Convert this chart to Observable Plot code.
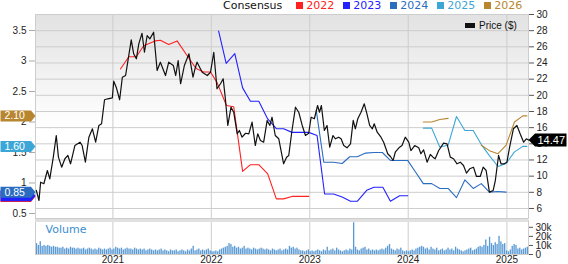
<!DOCTYPE html>
<html><head><meta charset="utf-8">
<script src="https://cdn.jsdelivr.net/npm/d3@7"></script>
<script src="https://cdn.jsdelivr.net/npm/@observablehq/plot@0.6"></script>
<style>
body{margin:0;background:#fff;}
#wrap{position:relative;width:568px;height:264px;overflow:hidden;font-family:"Liberation Sans",Arial,sans-serif;}
#main{position:absolute;left:0;top:0;}
#vol{position:absolute;left:0;top:216px;}
#legend{position:absolute;left:223px;top:0;display:flex;align-items:flex-start;font-family:"DejaVu Sans",Verdana,sans-serif;font-size:11px;line-height:11px;white-space:nowrap;}
#legend .item{display:flex;align-items:flex-start;margin-left:9px;}
#legend .sq{width:7px;height:7px;margin-top:2px;margin-right:3px;}
#priceLegend{position:absolute;left:465px;top:21px;font-size:10px;line-height:10px;white-space:nowrap;color:#111;}
#priceLegend .box{display:inline-block;width:10px;height:5px;background:#111;margin-right:4px;vertical-align:1px;}
</style></head><body>
<div id="wrap">
  <div id="main"></div>
  <div id="vol"></div>
  <div id="legend"><span style="color:#111;margin-right:5px">Consensus</span></div>
  <div id="priceLegend"><span class="box"></span>Price ($)</div>
</div>
<script>
// ---------------- data ----------------
const price = [
["2020-03-23",8.23],["2020-04-02",6.99],["2020-04-08",9.25],["2020-04-20",9.06],["2020-05-03",10.70],["2020-05-12",9.67],["2020-05-25",12.35],["2020-06-05",15.03],["2020-06-13",12.35],["2020-06-25",11.11],
["2020-07-07",12.15],["2020-07-18",12.56],["2020-07-28",11.53],["2020-08-13",13.79],["2020-09-01",14.20],["2020-09-09",13.79],["2020-09-21",11.73],["2020-10-04",14.82],["2020-10-17",15.86],["2020-10-29",14.20],
["2020-11-10",16.27],["2020-11-20",16.48],["2020-12-01",19.45],["2020-12-13",19.57],["2020-12-30",19.69],["2021-01-04",21.75],["2021-01-14",20.93],["2021-01-26",19.45],["2021-02-05",22.24],["2021-02-17",22.45],
["2021-02-25",24.10],["2021-03-10",26.87],["2021-03-19",25.14],["2021-03-29",24.52],["2021-04-07",26.37],["2021-04-19",27.68],["2021-04-28",25.33],["2021-05-08",27.40],["2021-05-18",26.99],["2021-06-01",27.81],
["2021-06-14",23.07],["2021-06-26",24.10],["2021-07-15",22.45],["2021-07-27",24.10],["2021-08-13",23.69],["2021-08-22",22.45],["2021-08-31",24.31],["2021-09-09",21.43],["2021-09-23",23.69],["2021-10-10",25.14],
["2021-10-25",22.24],["2021-11-03",23.48],["2021-11-09",24.10],["2021-11-28",22.86],["2021-12-17",22.45],["2021-12-29",22.86],["2022-01-10",25.33],["2022-01-22",20.81],["2022-02-04",21.43],["2022-02-14",22.04],
["2022-02-22",19.57],["2022-03-03",16.27],["2022-03-15",18.53],["2022-03-25",17.91],["2022-04-07",15.24],["2022-04-15",15.65],["2022-04-25",14.82],["2022-05-08",15.31],["2022-05-20",15.24],["2022-06-01",16.68],
["2022-06-13",13.79],["2022-06-22",15.24],["2022-07-02",14.41],["2022-07-14",14.20],["2022-07-27",16.89],["2022-08-06",16.27],["2022-08-14",17.29],["2022-08-26",15.03],["2022-09-08",14.62],["2022-09-26",11.53],
["2022-10-07",12.35],["2022-10-15",12.56],["2022-10-27",15.65],["2022-11-09",18.53],["2022-11-21",17.91],["2022-12-04",16.27],["2022-12-16",15.03],["2022-12-28",15.31],["2023-01-06",17.29],["2023-01-18",17.10],
["2023-01-30",18.74],["2023-02-06",17.91],["2023-02-13",18.74],["2023-02-24",15.65],["2023-03-06",16.27],["2023-03-16",13.58],["2023-03-28",15.03],["2023-04-06",14.62],["2023-04-18",14.82],["2023-04-27",14.62],
["2023-05-07",13.79],["2023-05-19",13.51],["2023-06-01",14.00],["2023-06-11",16.89],["2023-06-19",15.86],["2023-06-28",17.10],["2023-07-10",17.91],["2023-07-22",18.95],["2023-08-01",17.71],["2023-08-11",16.27],
["2023-08-21",15.86],["2023-08-28",16.48],["2023-09-08",15.44],["2023-09-22",14.82],["2023-10-02",14.20],["2023-10-17",12.77],["2023-10-27",12.43],["2023-11-06",11.94],["2023-11-14",12.96],["2023-11-30",13.58],
["2023-12-09",13.79],["2023-12-21",14.82],["2024-01-03",14.20],["2024-01-11",13.17],["2024-01-25",13.79],["2024-02-09",13.51],["2024-02-17",12.77],["2024-02-27",13.26],["2024-03-11",11.73],["2024-03-23",12.68],
["2024-04-02",12.35],["2024-04-10",12.15],["2024-04-23",13.17],["2024-05-01",13.58],["2024-05-11",14.08],["2024-05-24",14.00],["2024-06-05",12.35],["2024-06-17",12.15],["2024-06-30",11.53],["2024-07-12",11.73],
["2024-07-24",11.32],["2024-08-04",10.37],["2024-08-16",10.91],["2024-08-30",11.11],["2024-09-10",9.96],["2024-09-24",9.96],["2024-10-05",11.11],["2024-10-16",10.70],["2024-10-28",8.02],["2024-11-11",8.23],
["2024-11-19",9.46],["2024-12-01",12.56],["2024-12-10",11.53],["2024-12-22",11.53],["2025-01-01",11.73],["2025-01-11",13.58],["2025-01-25",15.86],["2025-02-07",16.27],["2025-02-19",15.24],["2025-03-04",14.20],
["2025-03-14",14.62],["2025-03-22",14.47]
];

const eps2022 = [["2021-01-29",2.87],["2021-03-01",3.07],["2021-03-29",3.07],["2021-04-25",3.25],["2021-06-07",3.33],["2021-06-26",3.34],["2021-07-27",3.27],["2021-08-27",3.33],["2021-10-03",3.09],["2021-10-28",2.93],["2021-11-09",2.87],["2021-12-04",2.82],["2021-12-29",2.82],["2022-01-22",2.65],["2022-02-26",2.27],["2022-03-25",2.25],["2022-04-27",1.19],["2022-05-26",1.30],["2022-06-26",1.30],["2022-07-29",1.15],["2022-08-30",0.74],["2022-09-26",0.74],["2022-10-27",0.78],["2022-12-28",0.78]];
const eps2023 = [["2022-01-28",3.49],["2022-02-25",2.96],["2022-03-29",3.12],["2022-04-27",2.56],["2022-05-26",2.34],["2022-06-26",2.34],["2022-07-29",2.05],["2022-08-30",1.89],["2022-09-26",1.89],["2022-10-27",1.83],["2022-12-28",1.83],["2023-01-28",1.78],["2023-02-25",0.82],["2023-03-30",0.82],["2023-05-01",0.77],["2023-06-01",0.70],["2023-06-26",0.70],["2023-07-31",0.88],["2023-08-27",0.93],["2023-09-29",0.93],["2023-10-27",0.70],["2023-11-30",0.79],["2023-12-30",0.79]];
const eps2024 = [["2023-01-25",2.19],["2023-02-22",1.34],["2023-03-30",1.34],["2023-05-01",1.32],["2023-05-29",1.43],["2023-06-26",1.43],["2023-07-27",1.49],["2023-08-27",1.50],["2023-09-27",1.50],["2023-10-27",1.37],["2023-11-30",1.37],["2023-12-30",1.37],["2024-01-28",1.18],["2024-02-26",0.99],["2024-03-28",0.99],["2024-04-27",0.91],["2024-05-28",0.91],["2024-06-28",0.76],["2024-07-29",1.05],["2024-08-29",0.91],["2024-09-28",0.99],["2024-10-28",0.85],["2024-11-29",0.86],["2024-12-29",0.85]];
const eps2025 = [["2024-02-26",1.90],["2024-03-28",1.90],["2024-04-27",1.59],["2024-05-28",1.62],["2024-06-28",2.09],["2024-07-29",1.86],["2024-08-29",1.86],["2024-09-28",1.63],["2024-10-28",1.45],["2024-11-29",1.27],["2024-12-29",1.32],["2025-01-29",1.51],["2025-03-01",1.60],["2025-03-16",1.60]];
const eps2026 = [["2024-02-26",2.00],["2024-03-28",2.00],["2024-04-27",2.04],["2024-05-28",2.06],["2024-06-28",null],["2024-09-28",1.62],["2024-10-28",1.53],["2024-11-29",1.48],["2024-12-29",1.62],["2025-01-29",2.00],["2025-03-01",2.10],["2025-03-16",2.10]];

const seriesNames = ["2022","2023","2024","2025","2026"];
const seriesColors = ["#ff2020","#2222ff","#2a6cc0","#3ca6d6","#b8862f"];
// current consensus values (tags); the 2022 / 2023 tags sit underneath the 2024 one
const tagValues = [0.78, 0.79, 0.85, 1.60, 2.10];
const tagLabels = ["", "", "0.85", "1.60", "2.10"];
const lastPriceLabel = "14.47";

// weekly volume (thousands), first week 2020-03-23
const volumeStart = "2020-03-23";
const volumeK = [
12,10,14,9,10,9,10,9,8,9,8,
8,7,7,8,6,7,6,8,7,7,6,7,6,
6,7,5,6,7,6,5,6,5,7,6,5,6,
5,6,7,5,6,8,7,6,7,5,6,7,6,
6,5,7,6,5,6,5,6,4,5,6,5,4,
5,4,5,6,4,5,4,3,5,4,4,5,3,
4,5,4,3,5,4,6,9,4,5,6,4,5,
4,5,6,4,3,3,4,3,5,6,7,8,9,
12,11,8,9,7,8,6,7,9,6,7,6,5,
7,6,5,6,7,6,5,6,5,4,6,5,4,
5,6,4,5,6,5,9,7,8,6,7,5,4,
4,3,4,5,3,4,3,4,5,4,3,5,4,
8,4,5,6,4,7,5,4,3,4,5,4,6,
5,35,8,5,4,6,7,8,5,6,4,5,4,
5,4,5,6,5,7,9,11,6,5,4,6,5,
7,4,3,4,3,4,5,4,6,7,8,9,8,
6,7,5,8,6,5,7,4,5,6,4,5,7,
5,6,4,8,6,5,4,3,4,5,6,7,4,
5,6,8,9,8,10,16,9,19,12,10,13,11,
20,14,11,12,4,3,5,9,11,10,6,7,5,
6,7,8
];

const priceTicks = [6,8,10,12,14,16,18,20,22,24,26,28,30];
const epsTicks = [0.5,1,1.5,2,2.5,3,3.5];
const volumeTicks = [0,10,20,30];
const yearTicks = ["2021-01-01","2022-01-01","2023-01-01","2024-01-01","2025-01-01"];

// ---------------- build ----------------
const parse = s => new Date(s + "T00:00:00Z");
const xDomain = [parse("2020-03-20"), parse("2025-03-22")];
const years = yearTicks.map(parse);
// left (EPS) axis aligned onto the price axis
const epsToPrice = e => 5.38 + (e - 0.5) * 7.546;
const priceToEps = p => (p - 5.38) / 7.546 + 0.5;

const epsData = [eps2022, eps2023, eps2024, eps2025, eps2026];
const priceRows = price.map(([d, v]) => ({date: parse(d), v}));
const epsRows = epsData.flatMap((s, i) => s.map(([d, v]) => ({key: seriesNames[i], color: seriesColors[i], date: parse(d), p: v == null ? null : epsToPrice(v)})));
const tagRows = seriesNames.map((k, i) => ({key: k, color: seriesColors[i], label: tagLabels[i], p: epsToPrice(tagValues[i])}));
const tagTextRows = tagRows.filter(d => d.label);

const leftTag = {draw(c) { c.moveTo(-35, -5.5); c.lineTo(-4.5, -5.5); c.lineTo(0, 0); c.lineTo(-4.5, 5.5); c.lineTo(-35, 5.5); c.closePath(); }};
const rightTag = {draw(c) { c.moveTo(0, 0); c.lineTo(6.5, -6.5); c.lineTo(38, -6.5); c.lineTo(38, 6.5); c.lineTo(6.5, 6.5); c.closePath(); }};

const font = "'Liberation Sans', Arial, sans-serif";
const grid = "#cdcdcd";

const main = Plot.plot({
  width: 568, height: 219,
  marginTop: 14, marginBottom: 1, marginLeft: 35, marginRight: 40,
  x: {type: "utc", domain: xDomain, axis: null},
  y: {domain: [4.76, 30], axis: null},
  color: {type: "identity"},
  style: {fontFamily: font, fontSize: "10px", background: "none", overflow: "visible", color: "#222"},
  marks: [
    Plot.frame({fill: "url(#bgGrad)"}),
    Plot.gridY(priceTicks, {stroke: grid, strokeOpacity: 1}),
    Plot.gridX(years, {stroke: grid, strokeOpacity: 1}),
    Plot.frame({stroke: grid}),
    Plot.axisY(priceTicks, {anchor: "right", tickSize: 5, tickPadding: 3, stroke: "#555", fill: "#222", label: null}),
    Plot.axisY(epsTicks.map(epsToPrice), {anchor: "left", tickSize: 6, tickPadding: 3, stroke: "#aaa", fill: "#222", label: null,
      tickFormat: p => d3.format("~g")(Math.round(priceToEps(p) * 10) / 10)}),
    Plot.line(epsRows, {x: "date", y: "p", z: "key", stroke: "color", strokeWidth: 1.1}),
    Plot.line(priceRows, {x: "date", y: "v", stroke: "#111", strokeWidth: 1.2}),
    Plot.dot(tagRows, {y: "p", frameAnchor: "left", symbol: leftTag, fill: "color", stroke: null}),
    Plot.text(tagTextRows, {y: "p", frameAnchor: "left", dx: -31, textAnchor: "start", text: "label", fill: "white", fontSize: 10.5}),
    Plot.dot([+lastPriceLabel], {y: d => d, frameAnchor: "right", symbol: rightTag, fill: "#000", stroke: null}),
    Plot.text([lastPriceLabel], {y: d => +d, frameAnchor: "right", dx: 9, textAnchor: "start", text: d => d, fill: "white", fontSize: 11})
  ]
});
d3.select(main).insert("defs", ":first-child").html(
  '<linearGradient id="bgGrad" x1="0" y1="0" x2="0" y2="1"><stop offset="0" stop-color="#e2e2e2"/><stop offset="0.55" stop-color="#ffffff"/></linearGradient>');
document.getElementById("main").appendChild(main);

const volRows = volumeK.map((v, i) => {
  const date = d3.utcWeek.offset(parse(volumeStart), i);
  return {date, end: d3.utcDay.offset(date, 5), v};
});
const vol = Plot.plot({
  width: 568, height: 48,
  marginTop: 4, marginBottom: 10, marginLeft: 35, marginRight: 40,
  x: {type: "utc", domain: xDomain, axis: null},
  y: {domain: [0, 37.5], axis: null},
  style: {fontFamily: font, fontSize: "10px", background: "none", overflow: "visible", color: "#222"},
  marks: [
    Plot.gridX(years, {stroke: grid, strokeOpacity: 1}),
    Plot.rectY(volRows, {x1: "date", x2: "end", y: "v", fill: "#5b9bd5"}),
    Plot.frame({stroke: grid}),
    Plot.ruleY([37.5], {stroke: "#e0e0e0", strokeWidth: 3}),
    Plot.axisY(volumeTicks, {anchor: "right", tickSize: 4, tickPadding: 3, stroke: "#555", fill: "#222", label: null,
      tickFormat: d => d === 0 ? "0" : d + "k"}),
    Plot.axisX(years, {anchor: "bottom", tickSize: 0, tickPadding: 1, tickFormat: "%Y", fill: "#222", label: null}),
    Plot.text(["Volume"], {frameAnchor: "top-left", dx: 10, dy: 5, lineAnchor: "top", textAnchor: "start", text: d => d,
      fill: "#3b8ed0", fontSize: 11, fontFamily: "'DejaVu Sans', Verdana, sans-serif"})
  ]
});
document.getElementById("vol").appendChild(vol);

// legend
const lg = d3.select("#legend");
seriesNames.forEach((k, i) => {
  const it = lg.append("span").attr("class", "item");
  it.append("span").attr("class", "sq").style("background", seriesColors[i]);
  it.append("span").style("color", seriesColors[i]).text(k);
});
</script>
</body></html>
